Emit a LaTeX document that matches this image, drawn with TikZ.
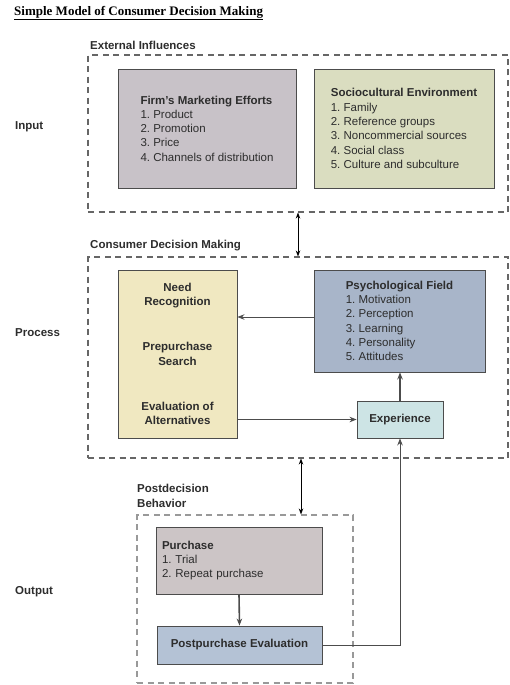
\documentclass[tikz,border=0pt]{standalone}
\usepackage{fontspec}
\setmainfont{Liberation Sans}
\newfontfamily\titlefont{Liberation Serif}
\usetikzlibrary{arrows.meta}

\definecolor{firmfill}{RGB}{200,194,200}
\definecolor{sociofill}{RGB}{218,221,192}
\definecolor{needfill}{RGB}{240,232,193}
\definecolor{psychfill}{RGB}{168,181,201}
\definecolor{experfill}{RGB}{205,228,229}
\definecolor{purchfill}{RGB}{204,197,198}
\definecolor{postfill}{RGB}{180,194,213}
\definecolor{inktext}{RGB}{45,45,45}

\tikzset{
    stage/.style = {draw = black!70, line width = 0.9pt, fill = #1, text = inktext, inner sep = 0pt},
    frame/.style = {draw = black!60, line width = 1.1pt, dash pattern = on 6pt off 4.5pt, inner sep = 0pt},
    flow/.style = {draw = black!70, line width = 0.9pt, -{Stealth[length = 7pt, width = 5.5pt]}},
    link/.style = {draw = black, line width = 0.8pt, {Stealth[length = 6pt, width = 4.5pt]}-{Stealth[length = 6pt, width = 4.5pt]}},
    side/.style = {anchor = west, text = inktext, inner sep = 0pt},
}

\frenchspacing
\begin{document}
\begin{tikzpicture}[x = 1pt, y = -1pt, font = \fontsize{11.5}{14.3}\selectfont]
        \useasboundingbox (0,0) rectangle (510,685);
        %Title
        \node [anchor = west, inner sep = 0pt]
        (title)at(14,13){\titlefont\bfseries\fontsize{13}{15}\selectfont\underline{Simple Model of Consumer Decision Making}};
        %Input
        \node [side] (lin)at(15,127){\textbf{Input}};
        \node [side] (lext)at(90,45){\textbf{External Influences}};
        \node [frame, minimum width = 420, minimum height = 157]
        (ext)at(298,133.5){};
        \node [stage = firmfill, minimum width = 178, minimum height = 119, align = left]
        (firm)at(207,128.5){\textbf{Firm's Marketing Efforts}\\1. Product\\2. Promotion\\3. Price\\4. Channels of distribution};
        \node [stage = sociofill, minimum width = 180, minimum height = 119, align = left]
        (socio)at(404,128.5){\textbf{Sociocultural Environment}\\1. Family\\2. Reference groups\\3. Noncommercial sources\\4. Social class\\5. Culture and subculture};
        %Process
        \node [side] (lproc)at(15,333){\textbf{Process}};
        \node [side] (lcdm)at(90,246){\textbf{Consumer Decision Making}};
        \node [frame, minimum width = 420, minimum height = 201]
        (cdm)at(298,357.5){};
        \node [stage = needfill, minimum width = 119, minimum height = 168, align = center, font = \fontsize{11.5}{14.3}\selectfont\bfseries]
        (need)at(177.5,354){Need\\Recognition\\[31pt]Prepurchase\\Search\\[31pt]Evaluation of\\Alternatives};
        \node [stage = psychfill, minimum width = 171, minimum height = 102, align = left]
        (psych)at(399.5,321){\textbf{Psychological Field}\\1. Motivation\\2. Perception\\3. Learning\\4. Personality\\5. Attitudes};
        \node [stage = experfill, minimum width = 86, minimum height = 37]
        (exper)at(400,419.5){\textbf{Experience}};
        %Output
        \node [side] (lout)at(15,592){\textbf{Output}};
        \node [side, align = left] (lpdb)at(137,496){\textbf{Postdecision}\\\textbf{Behavior}};
        \node [frame, draw = black!40, minimum width = 216, minimum height = 168]
        (pdb)at(245,599){};
        \node [stage = purchfill, minimum width = 166, minimum height = 67, text width = 154, inner xsep = 6pt, align = left]
        (purch)at(239,560.5){\textbf{Purchase}\\1. Trial\\2. Repeat purchase};
        \node [stage = postfill, minimum width = 165, minimum height = 38]
        (post)at(239.5,645){\textbf{Postpurchase Evaluation}};

        \draw [link] (ext.south) -- (cdm.north);
        \draw [link] ([xshift = 3pt]cdm.south) -- ([xshift = 3pt]cdm.south |- pdb.north);
        \draw [flow] ([yshift = 4pt]psych.west) -- ([yshift = 4pt]psych.west -| need.east);
        \draw [flow] (exper.west -| need.east) -- (exper.west);
        \draw [flow, line width = 1.6pt] (exper.north) -- (exper.north |- psych.south);
        \draw [flow, line width = 1.6pt] (purch.south) -- (post.north);
        \draw [flow] (post.east) -| (exper.south);

    \end{tikzpicture}
\end{document}
